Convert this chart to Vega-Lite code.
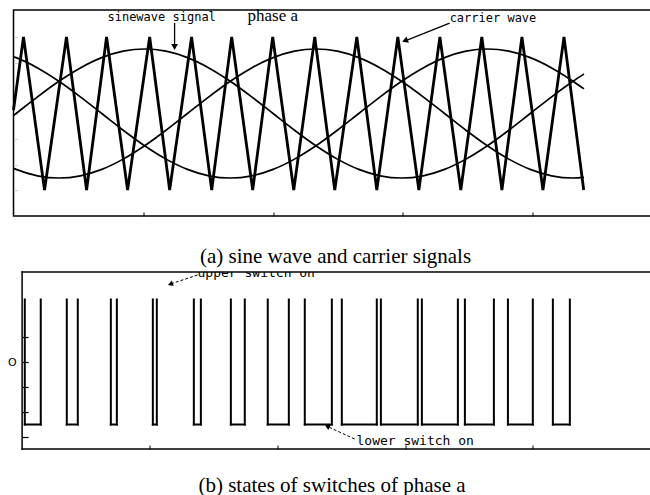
{
  "$schema": "https://vega.github.io/schema/vega-lite/v6.json",
  "padding": {"left": 6.5, "top": 6, "right": 0, "bottom": 0},
  "background": "white",
  "config": {
    "view": {"stroke": "black", "strokeWidth": 1.5},
    "axis": {"grid": false, "domain": false}
  },
  "datasets": {
    "carrier": [
      {"x": 0, "y": 0.14}, {"x": 0.077, "y": 3}, {"x": 0.239, "y": -3}, {"x": 0.408, "y": 3}, {"x": 0.563, "y": -3},
      {"x": 0.717, "y": 3}, {"x": 0.879, "y": -3}, {"x": 1.049, "y": 3}, {"x": 1.203, "y": -3}, {"x": 1.372, "y": 3},
      {"x": 1.527, "y": -3}, {"x": 1.681, "y": 3}, {"x": 1.843, "y": -3}, {"x": 1.997, "y": 3}, {"x": 2.159, "y": -3},
      {"x": 2.321, "y": 3}, {"x": 2.475, "y": -3}, {"x": 2.645, "y": 3}, {"x": 2.799, "y": -3}, {"x": 2.961, "y": 3},
      {"x": 3.123, "y": -3}, {"x": 3.285, "y": 3}, {"x": 3.446, "y": -3}, {"x": 3.608, "y": 3}, {"x": 3.763, "y": -3},
      {"x": 3.917, "y": 3}, {"x": 4.079, "y": -3}, {"x": 4.241, "y": 3}, {"x": 4.393, "y": -3}
    ],
    "sines": [
      {"x": 0, "a": -0.079, "b": -2.15, "c": 2.229},
      {"x": 0.02, "a": 0, "b": -2.191, "c": 2.191},
      {"x": 0.185, "a": 0.655, "b": -2.444, "c": 1.789},
      {"x": 0.35, "a": 1.265, "b": -2.53, "c": 1.265},
      {"x": 0.515, "a": 1.789, "b": -2.444, "c": 0.655},
      {"x": 0.68, "a": 2.191, "b": -2.191, "c": 0},
      {"x": 0.845, "a": 2.444, "b": -1.789, "c": -0.655},
      {"x": 1.01, "a": 2.53, "b": -1.265, "c": -1.265},
      {"x": 1.175, "a": 2.444, "b": -0.655, "c": -1.789},
      {"x": 1.34, "a": 2.191, "b": 0, "c": -2.191},
      {"x": 1.505, "a": 1.789, "b": 0.655, "c": -2.444},
      {"x": 1.67, "a": 1.265, "b": 1.265, "c": -2.53},
      {"x": 1.835, "a": 0.655, "b": 1.789, "c": -2.444},
      {"x": 2.0, "a": 0, "b": 2.191, "c": -2.191},
      {"x": 2.165, "a": -0.655, "b": 2.444, "c": -1.789},
      {"x": 2.33, "a": -1.265, "b": 2.53, "c": -1.265},
      {"x": 2.495, "a": -1.789, "b": 2.444, "c": -0.655},
      {"x": 2.66, "a": -2.191, "b": 2.191, "c": 0},
      {"x": 2.825, "a": -2.444, "b": 1.789, "c": 0.655},
      {"x": 2.99, "a": -2.53, "b": 1.265, "c": 1.265},
      {"x": 3.156, "a": -2.444, "b": 0.655, "c": 1.789},
      {"x": 3.321, "a": -2.191, "b": 0, "c": 2.191},
      {"x": 3.486, "a": -1.789, "b": -0.655, "c": 2.444},
      {"x": 3.651, "a": -1.265, "b": -1.265, "c": 2.53},
      {"x": 3.816, "a": -0.655, "b": -1.789, "c": 2.444},
      {"x": 3.981, "a": 0, "b": -2.191, "c": 2.191},
      {"x": 4.146, "a": 0.655, "b": -2.444, "c": 1.789},
      {"x": 4.311, "a": 1.265, "b": -2.53, "c": 1.265},
      {"x": 4.395, "a": 1.547, "b": -2.508, "c": 0.964}
    ],
    "segments": [
      {"x": 0.021, "x2": 0.021, "y": 2.5, "y2": -2.5}, {"x": 0.146, "x2": 0.146, "y": 2.5, "y2": -2.5}, {"x": 0.021, "x2": 0.146, "y": -2.5, "y2": -2.5},
      {"x": 0.35, "x2": 0.35, "y": 2.5, "y2": -2.5}, {"x": 0.436, "x2": 0.436, "y": 2.5, "y2": -2.5}, {"x": 0.35, "x2": 0.436, "y": -2.5, "y2": -2.5},
      {"x": 0.695, "x2": 0.695, "y": 2.5, "y2": -2.5}, {"x": 0.742, "x2": 0.742, "y": 2.5, "y2": -2.5}, {"x": 0.695, "x2": 0.742, "y": -2.5, "y2": -2.5},
      {"x": 1.024, "x2": 1.024, "y": 2.5, "y2": -2.5}, {"x": 1.055, "x2": 1.055, "y": 2.5, "y2": -2.5}, {"x": 1.024, "x2": 1.055, "y": -2.5, "y2": -2.5},
      {"x": 1.345, "x2": 1.345, "y": 2.5, "y2": -2.5}, {"x": 1.4, "x2": 1.4, "y": 2.5, "y2": -2.5}, {"x": 1.345, "x2": 1.4, "y": -2.5, "y2": -2.5},
      {"x": 1.635, "x2": 1.635, "y": 2.5, "y2": -2.5}, {"x": 1.744, "x2": 1.744, "y": 2.5, "y2": -2.5}, {"x": 1.635, "x2": 1.744, "y": -2.5, "y2": -2.5},
      {"x": 1.924, "x2": 1.924, "y": 2.5, "y2": -2.5}, {"x": 2.089, "x2": 2.089, "y": 2.5, "y2": -2.5}, {"x": 1.924, "x2": 2.089, "y": -2.5, "y2": -2.5},
      {"x": 2.214, "x2": 2.214, "y": 2.5, "y2": -2.5}, {"x": 2.426, "x2": 2.426, "y": 2.5, "y2": -2.5}, {"x": 2.214, "x2": 2.426, "y": -2.5, "y2": -2.5},
      {"x": 2.504, "x2": 2.504, "y": 2.5, "y2": -2.5}, {"x": 2.778, "x2": 2.778, "y": 2.5, "y2": -2.5}, {"x": 2.504, "x2": 2.778, "y": -2.5, "y2": -2.5},
      {"x": 2.81, "x2": 2.81, "y": 2.5, "y2": -2.5}, {"x": 3.099, "x2": 3.099, "y": 2.5, "y2": -2.5}, {"x": 2.81, "x2": 3.099, "y": -2.5, "y2": -2.5},
      {"x": 3.131, "x2": 3.131, "y": 2.5, "y2": -2.5}, {"x": 3.413, "x2": 3.413, "y": 2.5, "y2": -2.5}, {"x": 3.131, "x2": 3.413, "y": -2.5, "y2": -2.5},
      {"x": 3.468, "x2": 3.468, "y": 2.5, "y2": -2.5}, {"x": 3.695, "x2": 3.695, "y": 2.5, "y2": -2.5}, {"x": 3.468, "x2": 3.695, "y": -2.5, "y2": -2.5},
      {"x": 3.805, "x2": 3.805, "y": 2.5, "y2": -2.5}, {"x": 4.0, "x2": 4.0, "y": 2.5, "y2": -2.5}, {"x": 3.805, "x2": 4.0, "y": -2.5, "y2": -2.5},
      {"x": 4.157, "x2": 4.157, "y": 2.5, "y2": -2.5}, {"x": 4.29, "x2": 4.29, "y": 2.5, "y2": -2.5}, {"x": 4.157, "x2": 4.29, "y": -2.5, "y2": -2.5}
    ],
    "frameB": [
      {"x": 0, "x2": 0, "y": 3.6, "y2": -3.48},
      {"x": 0, "x2": 5, "y": 3.6, "y2": 3.6},
      {"x": 0, "x2": 5, "y": -3.48, "y2": -3.48}
    ]
  },
  "columns": 1,
  "spacing": 3,
  "concat": [
    {
      "width": 649,
      "height": 206,
      "encoding": {
        "x": {
          "field": "x", "type": "quantitative",
          "scale": {"domain": [0, 5], "nice": false, "zero": false},
          "axis": {
            "values": [1, 2, 3, 4], "labels": false, "tickSize": -4, "tickColor": "black", "domain": false, "grid": false,
            "title": "(a) sine wave and carrier signals", "titleFont": "Liberation Serif", "titleFontSize": 21,
            "titleFontWeight": "normal", "titleColor": "black", "titleBaseline": "alphabetic", "titleAlign": "center",
            "titleX": 321.5, "titleY": 46
          }
        },
        "y": {
          "field": "y", "type": "quantitative",
          "scale": {"domain": [-4.02, 4.06], "nice": false, "zero": false},
          "axis": {
            "values": [-3, -2, -1, 0, 1, 2, 3], "tickSize": -4, "tickColor": "#d0d0d0", "domain": false, "grid": false,
            "title": null, "labels": false
          }
        }
      },
      "layer": [
        {
          "data": {"name": "sines"},
          "transform": [{"fold": ["a", "b", "c"], "as": ["ph", "y"]}],
          "mark": {"type": "line", "color": "black", "strokeWidth": 1.7, "interpolate": "monotone"},
          "encoding": {"detail": {"field": "ph"}}
        },
        {
          "data": {"name": "carrier"},
          "mark": {"type": "line", "color": "black", "strokeWidth": 2.8, "strokeJoin": "miter"},
          "encoding": {}
        },
        {
          "data": {"values": [{"x": 0.724, "y": 3.784, "t": "sinewave signal"}, {"x": 3.36, "y": 3.745, "t": "carrier wave"}]},
          "mark": {"type": "text", "font": "DejaVu Sans Mono", "fontSize": 12, "align": "left", "baseline": "middle", "color": "black"},
          "encoding": {"text": {"field": "t"}}
        },
        {
          "data": {"values": [{"x": 1.803, "y": 3.627, "t": "phase a"}]},
          "mark": {"type": "text", "font": "Liberation Serif", "fontSize": 17, "align": "left", "baseline": "alphabetic", "color": "black"},
          "encoding": {"text": {"field": "t"}}
        },
        {
          "data": {"values": [{"x": 1.241, "y": 3.549, "x2": 1.241, "y2": 2.686}, {"x": 3.36, "y": 3.549, "x2": 3.013, "y2": 2.843}]},
          "mark": {"type": "rule", "color": "black", "strokeWidth": 1.3},
          "encoding": {"x2": {"field": "x2"}, "y2": {"field": "y2"}}
        },
        {
          "data": {"values": [{"x": 1.241, "y": 2.608}]},
          "mark": {"type": "point", "shape": "triangle-down", "filled": true, "color": "black", "size": 45, "opacity": 1, "strokeWidth": 0},
          "encoding": {}
        },
        {
          "data": {"values": [{"x": 3.016, "y": 2.855}]},
          "mark": {"type": "point", "shape": "triangle-up", "angle": 248, "filled": true, "color": "black", "size": 45, "opacity": 1, "strokeWidth": 0},
          "encoding": {}
        }
      ]
    },
    {
      "width": 647,
      "height": 177,
      "view": {"stroke": null},
      "encoding": {
        "x": {
          "field": "x", "type": "quantitative",
          "scale": {"domain": [-0.0674, 5], "nice": false, "zero": false},
          "axis": {
            "values": [1, 2, 3, 4], "labels": false, "tickSize": -4, "tickColor": "black", "domain": false, "grid": false,
            "title": "(b) states of switches of phase a", "titleFont": "Liberation Serif", "titleFontSize": 21,
            "titleFontWeight": "normal", "titleColor": "black", "titleBaseline": "alphabetic", "titleAlign": "center",
            "titleX": 318, "titleY": 42
          }
        },
        "y": {
          "field": "y", "type": "quantitative",
          "scale": {"domain": [-3.48, 3.6], "nice": false, "zero": false},
          "axis": {
            "values": [-3, -2, -1, 0, 1], "offset": -8.6, "tickSize": -6, "tickColor": "black", "tickWidth": 1.2, "domain": false, "grid": false,
            "title": null, "labelExpr": "datum.value == 0 ? 'O' : ''", "labelColor": "black",
            "labelFont": "DejaVu Sans", "labelFontSize": 11, "labelPadding": 12
          }
        }
      },
      "layer": [
        {
          "data": {"name": "frameB"},
          "mark": {"type": "rule", "color": "black", "strokeWidth": 1.5, "strokeCap": "square"},
          "encoding": {"x2": {"field": "x2"}, "y2": {"field": "y2"}}
        },
        {
          "data": {"name": "segments"},
          "mark": {"type": "rule", "color": "black", "strokeWidth": 2, "strokeCap": "square"},
          "encoding": {"x2": {"field": "x2"}, "y2": {"field": "y2"}}
        },
        {
          "data": {"values": [{"x": 1.374, "y": 3.42, "t": "upper switch on"}]},
          "mark": {"type": "text", "font": "DejaVu Sans Mono", "fontSize": 13, "align": "left", "baseline": "alphabetic", "color": "black", "clip": true},
          "encoding": {"text": {"field": "t"}}
        },
        {
          "data": {"values": [{"x": 2.619, "y": -3.32, "t": "lower switch on"}]},
          "mark": {"type": "text", "font": "DejaVu Sans Mono", "fontSize": 13, "align": "left", "baseline": "alphabetic", "color": "black"},
          "encoding": {"text": {"field": "t"}}
        },
        {
          "data": {"values": [{"x": 1.374, "y": 3.48, "x2": 1.15, "y2": 3.1}, {"x": 2.604, "y": -3.08, "x2": 2.38, "y2": -2.55}]},
          "mark": {"type": "rule", "color": "black", "strokeWidth": 1, "strokeDash": [3, 2]},
          "encoding": {"x2": {"field": "x2"}, "y2": {"field": "y2"}}
        },
        {
          "data": {"values": [{"x": 1.161, "y": 3.116}]},
          "mark": {"type": "point", "shape": "triangle-up", "angle": 252, "filled": true, "color": "black", "size": 35, "opacity": 1, "strokeWidth": 0},
          "encoding": {}
        },
        {
          "data": {"values": [{"x": 2.39, "y": -2.572}]},
          "mark": {"type": "point", "shape": "triangle-up", "angle": 295, "filled": true, "color": "black", "size": 35, "opacity": 1, "strokeWidth": 0},
          "encoding": {}
        }
      ]
    }
  ]
}
